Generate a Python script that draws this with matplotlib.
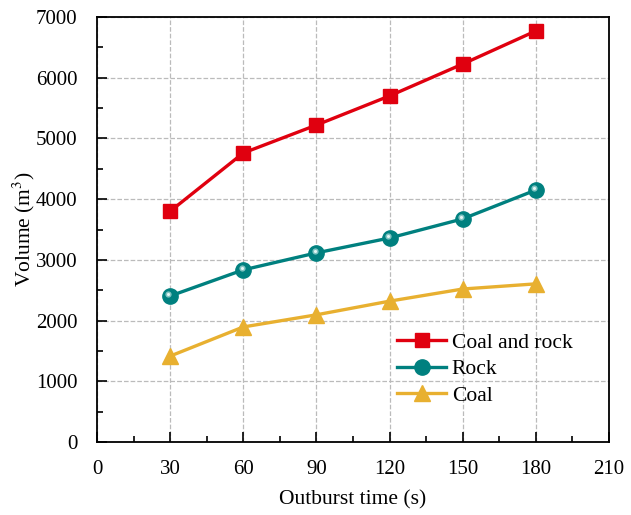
import matplotlib
matplotlib.use("Agg")
import matplotlib.pyplot as plt
from matplotlib.transforms import ScaledTranslation
from matplotlib.ticker import MultipleLocator

plt.rcParams['font.family'] = ['Liberation Serif', 'DejaVu Serif']
plt.rcParams['mathtext.fontset'] = 'stix'

time_s = [30, 60, 90, 120, 150, 180]
coal_and_rock = [3800, 4760, 5220, 5700, 6225, 6770]
rock = [2405, 2835, 3115, 3360, 3675, 4150]
coal = [1415, 1895, 2095, 2320, 2520, 2605]

red = '#E0000F'
teal = '#00807F'
gold = '#E8B030'

fig = plt.figure(figsize=(6.31, 5.15), dpi=100)
ax = fig.add_axes([0.1537, 0.1417, 0.8113, 0.8253])

ax.plot(time_s, coal_and_rock, color=red, lw=2.4, marker='s', ms=10,
        mec=red, mfc=red, label='Coal and rock', zorder=3)
ax.plot(time_s, rock, color=teal, lw=2.4, marker='o', ms=11,
        mec=teal, mfc=teal, label='Rock', zorder=3)
# specular highlight on the spherical markers
hl = ax.transData + ScaledTranslation(-1.2 / 72, 1.2 / 72, fig.dpi_scale_trans)
ax.plot(time_s, rock, ls='none', marker='o', ms=4.5, mfc='#7FC4C2',
        mec='none', transform=hl, zorder=4)
ax.plot(time_s, rock, ls='none', marker='o', ms=2.2, mfc='#E6F6F5',
        mec='none', transform=hl, zorder=5)
ax.plot(time_s, coal, color=gold, lw=2.4, marker='^', ms=11,
        mec=gold, mfc=gold, label='Coal', zorder=3)

ax.set_xlim(0, 210)
ax.set_ylim(0, 7000)
ax.xaxis.set_major_locator(MultipleLocator(30))
ax.xaxis.set_minor_locator(MultipleLocator(15))
ax.yaxis.set_major_locator(MultipleLocator(1000))
ax.yaxis.set_minor_locator(MultipleLocator(500))
ax.tick_params(which='both', direction='in', top=False, right=False,
               labelsize=15, width=1.2)
ax.tick_params(which='major', length=7)
ax.tick_params(axis='x', which='major', pad=13)
ax.tick_params(axis='y', which='major', pad=14)
ax.tick_params(which='minor', length=4)
ax.grid(True, which='major', color='#BBBBBB', ls='--', lw=0.9)
ax.set_axisbelow(True)
for s in ax.spines.values():
    s.set_linewidth(1.3)

ax.set_xlabel('Outburst time (s)', fontsize=15.5, labelpad=8)
ax.set_ylabel('Volume (m$^3$)', fontsize=15.5, labelpad=-1)

leg = ax.legend(loc='upper left', bbox_to_anchor=(0.569, 0.278), frameon=False,
                fontsize=15.5, handlelength=2.3, handletextpad=0.25,
                labelspacing=0.3, borderaxespad=0)

fig.savefig('out.png', dpi=100)
